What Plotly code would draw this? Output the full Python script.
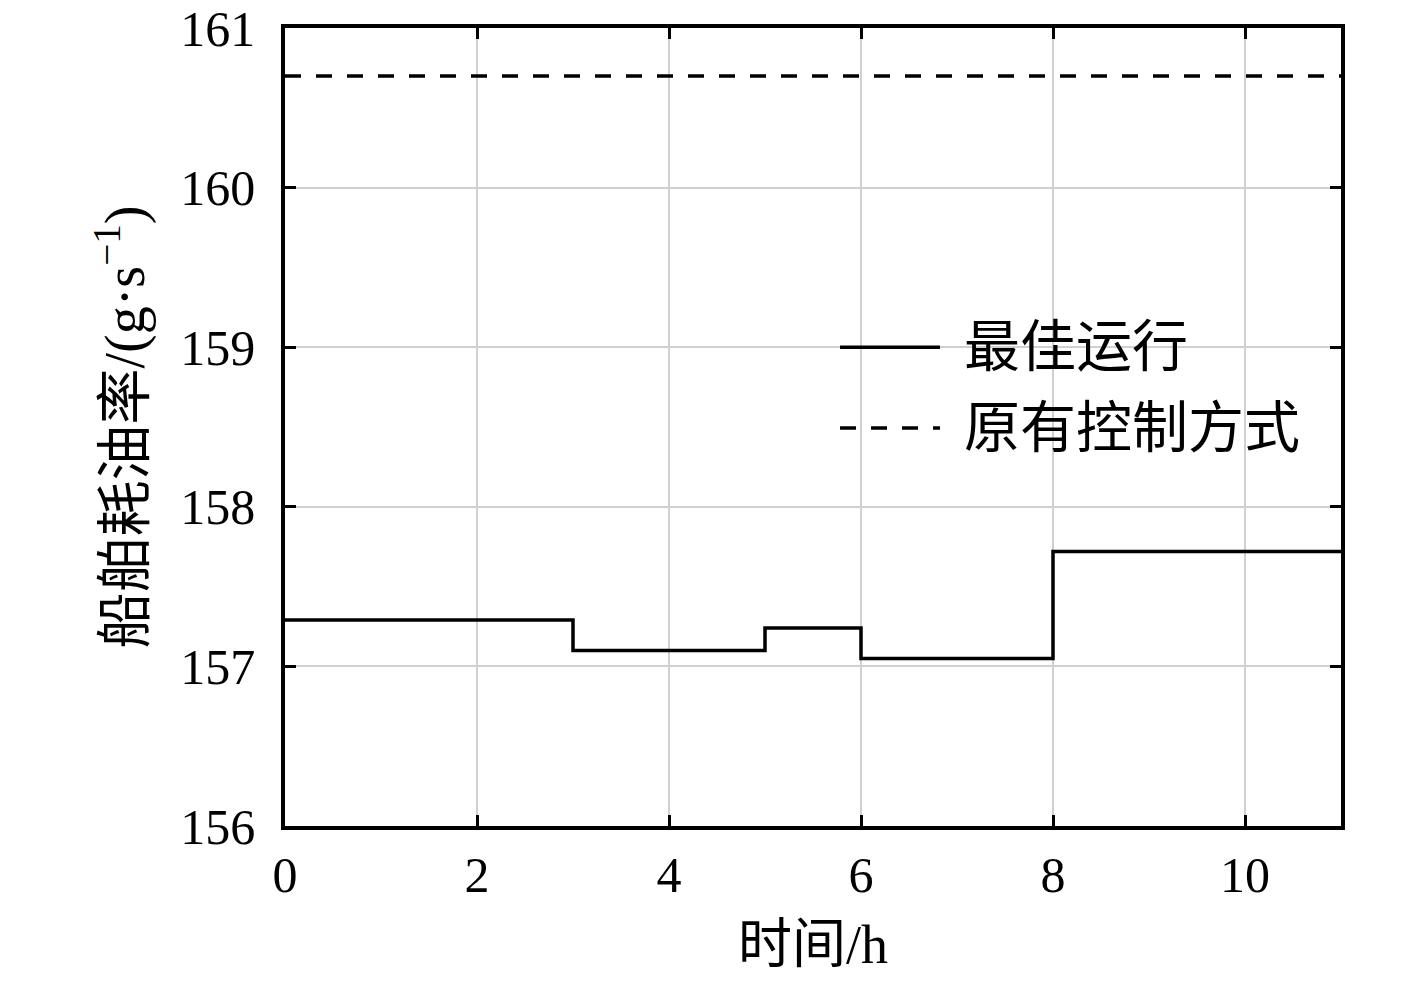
import plotly.graph_objects as go

step_x = [0, 3, 5, 6, 8, 11]
best_y = [157.29, 157.10, 157.24, 157.05, 157.72, 157.72]
orig_x = [0, 11]
orig_y = [160.70, 160.70]
x_ticks = [0, 2, 4, 6, 8, 10]
y_ticks = [156, 157, 158, 159, 160, 161]
legend_names = ["最佳运行", "原有控制方式"]

FONT = "Liberation Serif, Times New Roman, Noto Sans CJK SC, serif"
DASH = "16px,15px"

fig = go.Figure()
fig.add_trace(go.Scatter(x=step_x, y=best_y, mode="lines", line_shape="hv",
                         line=dict(color="black", width=3.5), name=legend_names[0], showlegend=False))
fig.add_trace(go.Scatter(x=orig_x, y=orig_y, mode="lines",
                         line=dict(color="black", width=3.5, dash=DASH), name=legend_names[1], showlegend=False))

# custom legend (paper coordinates)
leg = [(0.5256, 0.600, "solid"), (0.5256, 0.4987, DASH)]
for (x0, yy, dash), name in zip(leg, legend_names):
    fig.add_shape(type="line", xref="paper", yref="paper", x0=x0, x1=x0 + 0.0947, y0=yy, y1=yy,
                  line=dict(color="black", width=3.5, dash=dash))
    fig.add_annotation(xref="paper", yref="paper", x=0.641, y=yy, text=name, showarrow=False,
                       xanchor="left", yanchor="middle", font=dict(family=FONT, size=56, color="black"))

axis_common = dict(showline=True, linecolor="black", linewidth=3.5, mirror="ticks",
                   ticks="inside", ticklen=11, tickwidth=2.5, tickcolor="black",
                   showgrid=True, gridcolor="#d0d0d0", gridwidth=2, zeroline=False,
                   automargin=False, ticklabeloverflow="allow",
                   tickfont=dict(family=FONT, size=50, color="black"))

fig.update_xaxes(range=[0, 11], tickvals=x_ticks, ticklabelstandoff=2, **axis_common,
                 title=dict(text="时间/h", font=dict(family=FONT, size=54, color="black"), standoff=27))
fig.update_yaxes(range=[156, 161], tickvals=y_ticks, ticklabelstandoff=16, **axis_common,
                 title=dict(text="船舶耗油率/(g·s<sup>−1</sup>)", font=dict(family=FONT, size=56, color="black"), standoff=19))

# page body has an 8px margin; compensate so the plot area lands at 285..1341 x 28..826
fig.update_layout(width=1401, height=967, plot_bgcolor="white", paper_bgcolor="white",
                  margin=dict(l=277, r=68, t=20, b=149), showlegend=False)

fig.write_html("out.html")
